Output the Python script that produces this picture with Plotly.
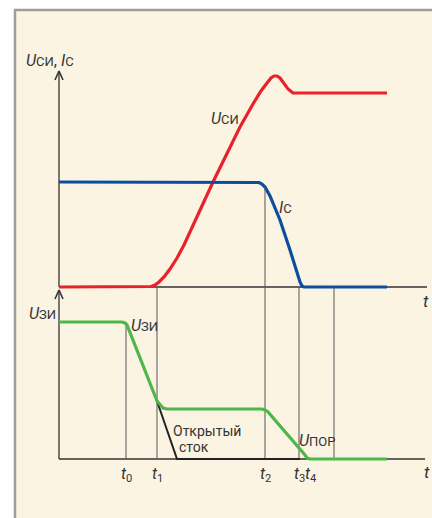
import plotly.graph_objects as go

# ---- data (x: time units from the vertical axis; y: signal units above each baseline) ----
t_usi = [0, 88, 92, 96, 100, 105, 111, 118, 125, 154, 181, 194, 202, 208, 212, 215, 218, 221, 225, 229, 234, 328]
u_si = [0, 0, 0.5, 2, 5, 10, 18, 29, 42, 105, 160, 183, 196, 204, 209, 211, 211, 209, 204, 198, 194, 194]

t_ic = [0, 197, 200, 203, 206, 211, 221, 231, 238, 241, 243, 245, 328]
i_c = [105, 105, 104.5, 103, 100, 91, 67, 37, 14, 5, 1, 0, 0]

t_uzi = [0, 63, 66, 68, 98, 101, 104, 108, 203, 206, 209, 246, 248, 251, 328]
u_zi = [137, 137, 136, 134, 58, 54, 51, 50, 50, 49, 47, 4, 1, 0, 0]

t_od = [98, 118, 241]
u_od = [58, 0, 0]

# marker lines: (time, top value in lower-axis units)
t_marks = [67, 98, 206, 240, 275]
mark_tops = [137, 172, 274, 172, 172]
t_labels = ["<i>t</i><sub>0</sub>", "<i>t</i><sub>1</sub>", "<i>t</i><sub>2</sub>",
            "<i>t</i><sub>3</sub>", "<i>t</i><sub>4</sub>"]
t_label_x = [67, 98, 206, 240, 252]

W, H = 432, 518
X0 = 59          # px of time zero
YU = 287         # px of upper baseline
YL = 459         # px of lower baseline

RED = "#e8212b"
BLUE = "#0b4e9f"
GREEN = "#4db749"
INK = "#333333"
FONT = "Liberation Sans Narrow, Roboto, Liberation Sans, sans-serif"

fig = go.Figure()

# axes
fig.add_trace(go.Scatter(x=[0, 368], y=[0, 0], mode="lines", line=dict(color=INK, width=1.3),
                         yaxis="y", hoverinfo="skip"))
fig.add_trace(go.Scatter(x=[0, 0], y=[0, YU - 71], mode="lines", line=dict(color=INK, width=1.3),
                         yaxis="y", hoverinfo="skip"))
fig.add_trace(go.Scatter(x=[-4, 0, 4], y=[YU - 80, YU - 71, YU - 80], mode="lines",
                         line=dict(color=INK, width=1.6), yaxis="y", hoverinfo="skip"))
fig.add_trace(go.Scatter(x=[0, 366], y=[0, 0], mode="lines", line=dict(color=INK, width=1.3),
                         yaxis="y2", hoverinfo="skip"))
fig.add_trace(go.Scatter(x=[0, 0], y=[0, YL - 290], mode="lines", line=dict(color=INK, width=1.3),
                         yaxis="y2", hoverinfo="skip"))
fig.add_trace(go.Scatter(x=[-4, 0, 4], y=[YL - 299, YL - 290, YL - 299], mode="lines",
                         line=dict(color=INK, width=1.6), yaxis="y2", hoverinfo="skip"))

# marker verticals
for tm, top in zip(t_marks, mark_tops):
    fig.add_trace(go.Scatter(x=[tm, tm], y=[0, top], mode="lines",
                             line=dict(color="#555555", width=1), yaxis="y2", hoverinfo="skip"))

# open-drain line
fig.add_trace(go.Scatter(x=t_od, y=u_od, mode="lines", line=dict(color="#222222", width=2),
                         yaxis="y2", hoverinfo="skip"))

# signals
fig.add_trace(go.Scatter(x=t_usi, y=u_si, mode="lines", line=dict(color=RED, width=3.2),
                         yaxis="y", hoverinfo="skip"))
fig.add_trace(go.Scatter(x=t_ic, y=i_c, mode="lines", line=dict(color=BLUE, width=3.2),
                         yaxis="y", hoverinfo="skip"))
fig.add_trace(go.Scatter(x=t_uzi, y=u_zi, mode="lines", line=dict(color=GREEN, width=3.2),
                         yaxis="y2", hoverinfo="skip"))


def px(x, y):
    return x / W, 1 - y / H


annotations = []


def label(text, x, y, size=15, anchor="center"):
    ax, ay = px(x, y)
    annotations.append(dict(text=text, x=ax, y=ay, xref="paper", yref="paper", showarrow=False,
                            xanchor=anchor, yanchor="middle",
                            font=dict(family=FONT, size=size, color=INK)))


S = "<span style='font-size:13px'>"
label("<i>U</i>" + S + "СИ</span>, <i>I</i>" + S + "С</span>", 50, 61, size=16)
label("<i>U</i>" + S + "ЗИ</span>", 42, 313, size=16)
label("<i>U</i>" + S + "ЗИ</span>", 144, 325, size=16)
label("<i>U</i>" + S + "СИ</span>", 225, 118, size=16)
label("<i>I</i>" + S + "С</span>", 285, 207, size=16)
label("<i>U</i>" + S + "ПОР</span>", 317, 440, size=16)
label("Открытый", 171, 431, size=14, anchor="left")
label("сток", 177, 447, size=14, anchor="left")
label("<i>t</i>", 426, 301, size=17)
label("<i>t</i>", 427, 472, size=17)
for lx, lt in zip(t_label_x, t_labels):
    label(lt, lx + X0, 474, size=16)

fig.update_layout(
    width=W, height=H,
    margin=dict(l=0, r=0, t=0, b=0),
    paper_bgcolor="white",
    plot_bgcolor="rgba(0,0,0,0)",
    showlegend=False,
    xaxis=dict(range=[-X0, W - X0], visible=False, fixedrange=True),
    yaxis=dict(range=[YU - H, YU], visible=False, fixedrange=True),
    yaxis2=dict(range=[YL - H, YL], visible=False, overlaying="y", fixedrange=True),
    shapes=[dict(type="rect", xref="paper", yref="paper", x0=15 / W, x1=1.02, y0=-0.02, y1=1 - 10 / H,
                 fillcolor="#fcf4e3", line=dict(color="#9d9d9d", width=2.5), layer="below")],
    annotations=annotations,
)

fig.write_html("out.html", config={"displayModeBar": False},
               post_script="document.body.style.margin='0px';document.body.style.overflow='hidden';")
